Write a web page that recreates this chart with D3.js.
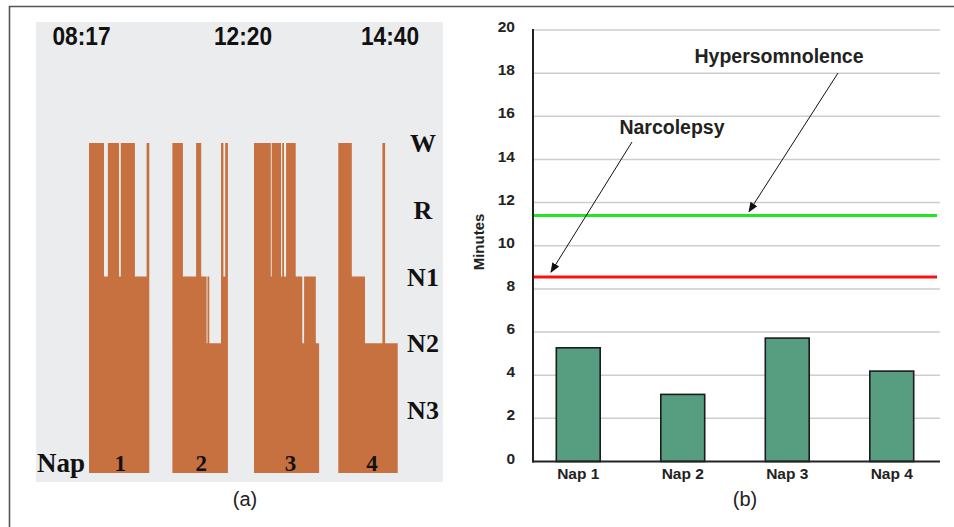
<!DOCTYPE html>
<html><head><meta charset="utf-8">
<script src="https://cdn.jsdelivr.net/npm/d3@7"></script>
<style>
html,body{margin:0;padding:0;background:#fff;}
svg{display:block;}
</style></head>
<body>
<svg id="chart" width="954" height="527"></svg>
<script>
// ---------- DATA ----------
const stages = ['W', 'R', 'N1', 'N2', 'N3'];
const timeLabels = ['08:17', '12:20', '14:40'];
const napNumbers = ['1', '2', '3', '4'];
const napNames = ['Nap 1', 'Nap 2', 'Nap 3', 'Nap 4'];
// start of each nap on a compressed time axis (minutes)
const napStarts = [0, 27.8, 55, 83.1];
// end of each nap recording (minutes after its start)
const napEnds = [20.1, 18.5, 21.7, 19.8];
// hypnogram segments: [minute after nap start, stage]
const nap1 = [[0,'W'],[5.0,'N1'],[6.3,'W'],[10.0,'N1'],[10.6,'W'],[15.3,'N1'],[19.2,'W']];
const nap2 = [[0,'W'],[3.5,'N1'],[7.9,'W'],[9.6,'N1'],[11.4,'N2'],[11.7,'N1'],[12.3,'N2'],[16.2,'W'],[17.0,'N1'],[17.6,'W']];
const nap3 = [[0,'W'],[5.6,'N1'],[5.9,'W'],[9.0,'N1'],[9.4,'W'],[10.0,'N1'],[10.7,'W'],[13.9,'N1'],[16.1,'N2'],[16.7,'N1'],[20.6,'N2']];
const nap4 = [[0,'W'],[4.5,'N1'],[8.9,'N2'],[14.7,'W'],[15.6,'N2']];
const naps = [nap1, nap2, nap3, nap4];
// sleep latency (minutes) per nap
const latencies = [5.27, 3.11, 5.72, 4.19];
const yTicks = [0, 2, 4, 6, 8, 10, 12, 14, 16, 18, 20];
const narcolepsyThreshold = 8.55;
const hypersomnolenceThreshold = 11.4;

// ---------- LAYOUT ----------
const svg = d3.select('#chart');
const sans = 'Liberation Sans, Arial, sans-serif';
const serif = 'Liberation Serif, Times New Roman, serif';

// outer frame
svg.append('path').attr('d', 'M9.5,527 V6.5 H954')
  .attr('fill', 'none').attr('stroke', '#555').attr('stroke-width', 1.6);

// ===== Panel (a) =====
svg.append('rect').attr('x', 36).attr('y', 22).attr('width', 407).attr('height', 460).attr('fill', '#ebecee');

const xh = d3.scaleLinear().domain([0, 110]).range([89, 419]);
const ys = d3.scalePoint().domain(stages).range([143, 410]);
const baseY = 473;

const area = d3.area()
  .curve(d3.curveStepAfter)
  .x(d => xh(d.t))
  .y0(baseY)
  .y1(d => ys(d.s));

naps.forEach((nap, i) => {
  const pts = nap.map(d => ({t: napStarts[i] + d[0], s: d[1]}));
  pts.push({t: napStarts[i] + napEnds[i], s: nap[nap.length - 1][1]});
  svg.append('path').datum(pts).attr('d', area).attr('fill', '#c77140');
});

// time labels
const timeX = [81.5, 243, 390];
timeLabels.forEach((t, i) => {
  svg.append('text').attr('x', timeX[i]).attr('y', 45).attr('text-anchor', 'middle')
    .attr('font-family', sans).attr('font-weight', 'bold').attr('font-size', 25)
    .attr('textLength', 58).attr('lengthAdjust', 'spacingAndGlyphs')
    .attr('fill', '#111').text(t);
});

// stage labels
stages.forEach(s => {
  svg.append('text').attr('x', 423).attr('y', ys(s) + 9).attr('text-anchor', 'middle')
    .attr('font-family', serif).attr('font-weight', 'bold').attr('font-size', 26)
    .attr('fill', '#111').text(s);
});

// Nap label and numbers
svg.append('text').attr('x', 37).attr('y', 472)
  .attr('font-family', serif).attr('font-weight', 'bold').attr('font-size', 27)
  .attr('fill', '#111').text('Nap');
napNumbers.forEach((n, i) => {
  svg.append('text').attr('x', xh(napStarts[i] + napEnds[i] / 2) + (i >= 2 ? 4 : 1)).attr('y', 471)
    .attr('text-anchor', 'middle')
    .attr('font-family', serif).attr('font-weight', 'bold').attr('font-size', 23)
    .attr('fill', '#111').text(n);
});

svg.append('text').attr('x', 245).attr('y', 506).attr('text-anchor', 'middle')
  .attr('font-family', sans).attr('font-size', 20).attr('fill', '#222').text('(a)');

// ===== Panel (b) =====
const x0 = 533, x1 = 940;
const y = d3.scaleLinear().domain([0, 20]).range([461.5, 30]);
const xb = d3.scaleBand().domain(napNames).range([526, 944]).paddingInner(0.58).paddingOuter(0.29);

// gridlines
svg.append('g').selectAll('line').data(yTicks.filter(v => v > 0)).join('line')
  .attr('x1', x0).attr('x2', x1).attr('y1', d => y(d)).attr('y2', d => y(d))
  .attr('stroke', '#cdcdcd').attr('stroke-width', 1.5);

// y axis ticks
const yAxis = d3.axisLeft(y).tickValues(yTicks).tickSize(0).tickPadding(0).tickFormat(d3.format('d'));
const gy = svg.append('g').attr('transform', `translate(${x0},0)`).call(yAxis);
gy.select('.domain').remove();
gy.selectAll('text').attr('x', -18).attr('dy', '0.1em')
  .attr('font-family', sans).attr('font-weight', 'bold').attr('font-size', 15.5).attr('fill', '#222');

// bars
svg.append('g').selectAll('rect').data(latencies).join('rect')
  .attr('x', (d, i) => xb(napNames[i]))
  .attr('width', xb.bandwidth())
  .attr('y', d => y(d))
  .attr('height', d => y(0) - y(d))
  .attr('fill', '#579e80').attr('stroke', '#1c1c1c').attr('stroke-width', 1.6);

// axis lines
svg.append('line').attr('x1', x0).attr('x2', x0).attr('y1', y(20) - 1).attr('y2', y(0) + 1)
  .attr('stroke', '#222').attr('stroke-width', 2);
svg.append('line').attr('x1', x0 - 1).attr('x2', x1).attr('y1', y(0)).attr('y2', y(0))
  .attr('stroke', '#222').attr('stroke-width', 2);

// x axis labels
const xAxis = d3.axisBottom(xb).tickSize(0).tickPadding(0);
const gx = svg.append('g').attr('transform', `translate(0,${y(0)})`).call(xAxis);
gx.select('.domain').remove();
gx.selectAll('text').attr('y', 17).attr('dy', 0)
  .attr('font-family', sans).attr('font-weight', 'bold').attr('font-size', 15.5).attr('fill', '#222');

// threshold lines
svg.append('line').attr('x1', x0 + 1).attr('x2', 937)
  .attr('y1', y(hypersomnolenceThreshold)).attr('y2', y(hypersomnolenceThreshold))
  .attr('stroke', '#22e622').attr('stroke-width', 3);
svg.append('line').attr('x1', x0 + 1).attr('x2', 937)
  .attr('y1', y(narcolepsyThreshold)).attr('y2', y(narcolepsyThreshold))
  .attr('stroke', '#ff1010').attr('stroke-width', 3);

// Minutes label
svg.append('text').attr('transform', 'translate(484,242) rotate(-90)').attr('text-anchor', 'middle')
  .attr('font-family', sans).attr('font-weight', 'bold').attr('font-size', 15).attr('fill', '#222')
  .text('Minutes');

// annotations
const defs = svg.append('defs');
defs.append('marker').attr('id', 'ah').attr('viewBox', '0 0 10 10').attr('refX', 9).attr('refY', 5)
  .attr('markerWidth', 10).attr('markerHeight', 10).attr('markerUnits', 'userSpaceOnUse').attr('orient', 'auto')
  .append('path').attr('d', 'M0,1 L10,5 L0,9 Z').attr('fill', '#111');

svg.append('text').attr('x', 779).attr('y', 63).attr('text-anchor', 'middle')
  .attr('font-family', sans).attr('font-weight', 'bold').attr('font-size', 19.5).attr('fill', '#222')
  .text('Hypersomnolence');
svg.append('line').attr('x1', 838).attr('y1', 73).attr('x2', 749).attr('y2', y(hypersomnolenceThreshold) - 4)
  .attr('stroke', '#111').attr('stroke-width', 1).attr('marker-end', 'url(#ah)');

svg.append('text').attr('x', 672).attr('y', 134).attr('text-anchor', 'middle')
  .attr('font-family', sans).attr('font-weight', 'bold').attr('font-size', 19.5).attr('fill', '#222')
  .text('Narcolepsy');
svg.append('line').attr('x1', 632).attr('y1', 142).attr('x2', 551).attr('y2', y(narcolepsyThreshold) - 5)
  .attr('stroke', '#111').attr('stroke-width', 1).attr('marker-end', 'url(#ah)');

svg.append('text').attr('x', 745).attr('y', 506).attr('text-anchor', 'middle')
  .attr('font-family', sans).attr('font-size', 20).attr('fill', '#222').text('(b)');
</script>
</body></html>
